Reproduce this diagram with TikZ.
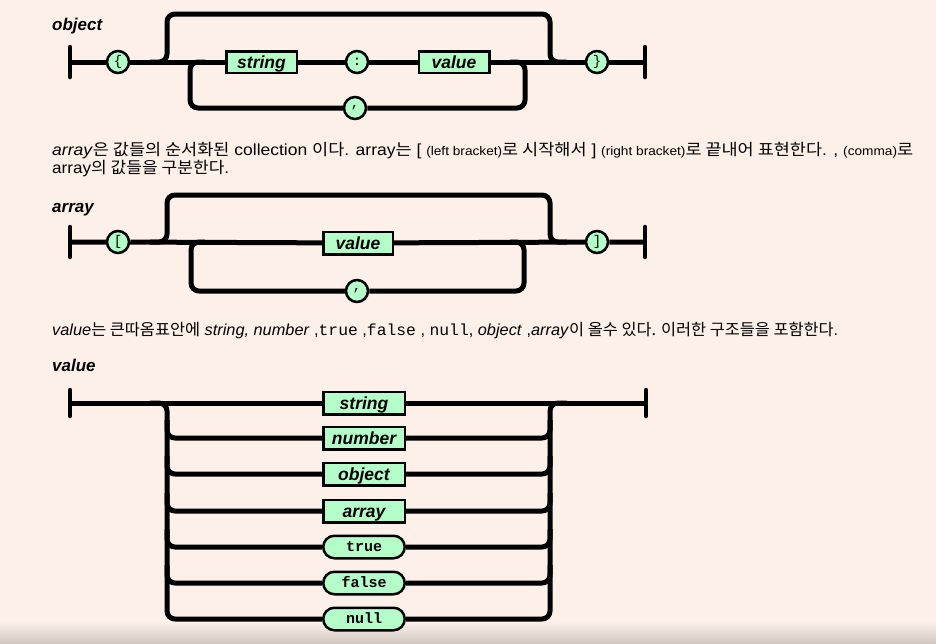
\documentclass[tikz,border=0pt]{standalone}
\usepackage{fontspec}
\setmainfont{Liberation Sans}
\setmonofont{Liberation Mono}
\newfontfamily\kr{Noto Sans CJK KR}
\usetikzlibrary{backgrounds,shapes.misc}
\definecolor{bgc}{RGB}{252,240,232}
\definecolor{mint}{RGB}{180,252,200}
\definecolor{shadow}{RGB}{210,201,195}
\newcommand{\K}[1]{{\kr #1}}
\newcommand{\sm}[1]{{\fontsize{12.5}{12.5}\selectfont #1}}
\tikzset{
  rail/.style={line width=5pt, line join=round, rounded corners=8pt},
  endbar/.style={line width=4.5pt, line cap=round},
  term/.style={circle, draw, line width=2.5pt, fill=mint, minimum size=22pt, inner sep=0pt,
    font=\ttfamily\fontsize{14}{14}\selectfont},
  nt/.style={rectangle, draw, line width=2.5pt, fill=mint, minimum height=21.5pt, inner sep=0pt,
    text height=12pt, text depth=0pt,
    font=\bfseries\itshape\fontsize{17.5}{17.5}\selectfont},
  lit/.style={rounded rectangle, draw, line width=2.5pt, fill=mint, minimum height=22.5pt,
    minimum width=81.5pt, inner sep=0pt, text height=9.3pt, text depth=0pt,
    font=\ttfamily\bfseries\fontsize{15}{15}\selectfont},
  title/.style={anchor=base west, inner sep=0pt, font=\bfseries\itshape\fontsize{17}{17}\selectfont},
  para/.style={anchor=base west, inner sep=0pt, font=\fontsize{16}{16}\selectfont},
}
\begin{document}
\begin{tikzpicture}[x=1pt,y=-1pt]
\begin{scope}[on background layer]
  \fill[bgc] (0,0) rectangle (936,643);
  \shade[top color=bgc, bottom color=shadow] (0,622) rectangle (936,643);
\end{scope}
\useasboundingbox (0,0) rectangle (936,643);

% ---------------- object ----------------
\node[title] (tobj) at (52,30) {object};
\coordinate (oL) at (70,62);
\coordinate (oR) at (645,62);
\node[term] (o1) at (118,62) {\{};
\node[nt, minimum width=70.5pt] (o2) at (261.5,62) {string};
\node[term] (o3) at (357,62) {:};
\node[nt, minimum width=70.5pt] (o4) at (454,62) {value};
\node[term] (o5) at (597,62) {\}};
\node[term] (o6) at (355,108) {,};
\coordinate (otl) at (150,62);
\coordinate (otr) at (567,62);
\coordinate (oil) at (205,62);
\coordinate (oir) at (510,62);

% ---------------- paragraph 1 ----------------
\node[para] (p1) at (52,155) {\resizebox{861pt}{\height}{\textit{array}\K{은 값들의 순서화된} collection \K{이다}. array\K{는} [ \sm{(left bracket)}\K{로 시작해서} ] \sm{(right bracket)}\K{로 끝내어 표현한다}. , \sm{(comma)}\K{로}}};
\node[para] (p2) at (52,173) {\resizebox{177pt}{\height}{array\K{의 값들을 구분한다}.}};

% ---------------- array ----------------
\node[title] (tarr) at (52,212) {array};
\coordinate (aL) at (70,242);
\coordinate (aR) at (645,242);
\node[term] (a1) at (118,242) {[};
\node[nt, minimum width=69.5pt, minimum height=22.5pt] (a2) at (358,243) {value};
\node[term] (a3) at (597,242) {]};
\node[term] (a4) at (357,291) {,};
\coordinate (atl) at (150,242);
\coordinate (atr) at (567,242);
\coordinate (ail) at (205,242);
\coordinate (air) at (510,242);

% ---------------- paragraph 2 ----------------
\node[para] (p3) at (52,335) {\resizebox{786pt}{\height}{\textit{value}\K{는 큰따옴표안에} \textit{string, number} ,{\ttfamily true} ,{\ttfamily false} , {\ttfamily null}, \textit{object} ,\textit{array}\K{이 올수 있다. 이러한 구조들을 포함한다}.}};

% ---------------- value ----------------
\node[title] (tval) at (52,371) {value};
\coordinate (vL) at (70,403);
\coordinate (vR) at (646,403);
\node[nt, minimum width=81.5pt, minimum height=22.5pt] (v1) at (364,403) {string};
\node[nt, minimum width=81.5pt, minimum height=22.5pt] (v2) at (364,438) {number};
\node[nt, minimum width=81.5pt, minimum height=22.5pt] (v3) at (364,474) {object};
\node[nt, minimum width=81.5pt, minimum height=22.5pt] (v4) at (364,511) {array};
\node[lit] (v5) at (364,547) {true};
\node[lit] (v6) at (364,583) {false};
\node[lit] (v7) at (364,619) {null};
\coordinate (vtl) at (150,403);
\coordinate (vtr) at (567,403);

\begin{scope}[on background layer]
  % object
  \draw[endbar] (70,47) -- (70,77);
  \draw[endbar] (645,47) -- (645,77);
  \draw[rail] (oL) -- (o1) -- (o2) -- (o3) -- (o4) -- (o5) -- (oR);
  \draw[rail] (otl) -- (167,62) -- (167,14) -- (550,14) -- (550,62) -- (otr);
  \draw[rail] (oil) -- (190,62) -- (190,108) -- (o6.west);
  \draw[rail] (o6.east) -- (525,108) -- (525,62) -- (oir);
  % array
  \draw[endbar] (70,227) -- (70,257);
  \draw[endbar] (645,227) -- (645,257);
  \draw[rail] (aL) -- (a1) -- (a2) -- (a3) -- (aR);
  \draw[rail] (atl) -- (167,242) -- (167,195) -- (550,195) -- (550,242) -- (atr);
  \draw[rail] (ail) -- (191,242) -- (191,291) -- (a4.west);
  \draw[rail] (a4.east) -- (524,291) -- (524,242) -- (air);
  % value
  \draw[endbar] (70,390) -- (70,416);
  \draw[endbar] (646,390) -- (646,416);
  \draw[rail] (vL) -- (v1) -- (vR);
  \draw[rail] (vtl) -- (167,403) -- (167,619) -- (v7.west);
  \draw[rail] (v7.east) -- (550,619) -- (550,403) -- (vtr);
  \foreach \n/\y in {v2/438,v3/474,v4/511,v5/547,v6/583}{
    \draw[rail] (167,\y-18) -- (167,\y) -- (\n.west);
    \draw[rail] (\n.east) -- (550,\y) -- (550,\y-18);
  }
\end{scope}
\end{tikzpicture}
\end{document}
